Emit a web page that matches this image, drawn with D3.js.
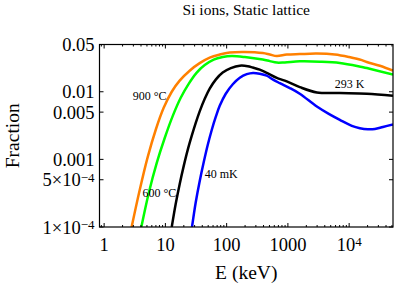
<!DOCTYPE html>
<html>
<head>
<meta charset="utf-8">
<script src="https://cdn.jsdelivr.net/npm/d3@7"></script>
<style>
  body { margin: 0; background: #fff; }
  text { font-family: "Liberation Serif", "DejaVu Serif", serif; fill: #000; }
</style>
</head>
<body>
<div id="chart"></div>
<script>
// energies in keV, fractions
var energy900 = [2.81, 3.8, 5.14, 6.94, 9.38, 12.7, 17.1, 24.9, 36.3, 52.9, 77.1, 112, 198, 389, 506, 659, 960, 1564, 2970, 5840, 10000, 16130, 19450, 31770, 52000];
var fraction900 = [1.0e-4, 3.5e-4, 1.08e-3, 2.72e-3, 5.78e-3, 0.01, 0.0146, 0.0205, 0.0265, 0.032, 0.0355, 0.038, 0.0387, 0.0373, 0.0355, 0.0337, 0.0355, 0.0361, 0.0367, 0.0355, 0.0326, 0.0294, 0.0275, 0.0243, 0.0205];

var energy600 = [4.05, 5.34, 7.21, 9.75, 13.2, 17.8, 24, 32.5, 43.9, 61.5, 86.3, 121, 198, 389, 506, 659, 890, 1564, 3320, 7050, 16130, 19450, 52000];
var fraction600 = [1.0e-4, 3.16e-4, 8.81e-4, 2.07e-3, 4.4e-3, 8.15e-3, 0.0131, 0.0192, 0.0248, 0.0299, 0.0326, 0.0337, 0.0326, 0.0299, 0.0284, 0.027, 0.0272, 0.0282, 0.0279, 0.0267, 0.0233, 0.0225, 0.0179];

var energy293 = [12.7, 14.7, 17.1, 19.9, 23.1, 26.9, 31.3, 36.3, 43.9, 52.9, 66.4, 86.3, 117, 164, 221, 267, 347, 452, 659, 890, 1564, 2970, 7050, 19450, 52000];
var fraction293 = [1.0e-4, 2.17e-4, 4.3e-4, 7.94e-4, 1.37e-3, 2.22e-3, 3.46e-3, 5.12e-3, 7.87e-3, 0.0111, 0.0151, 0.0192, 0.0223, 0.0243, 0.0239, 0.0228, 0.0212, 0.019, 0.016, 0.0146, 0.0117, 0.00976, 0.00956, 0.00934, 0.00873];

var energy40 = [27.2, 31.3, 36.3, 42.3, 49.1, 57.1, 66.4, 77.1, 96.7, 126, 164, 213, 270, 347, 452, 573, 738, 1074, 1564, 2970, 4650, 7050, 11070, 14970, 20230, 26300, 35560, 52000];
var fraction40 = [1.0e-4, 2.32e-4, 4.76e-4, 9.12e-4, 1.63e-3, 2.72e-3, 4.25e-3, 6.19e-3, 9.34e-3, 0.0129, 0.0161, 0.0182, 0.019, 0.0185, 0.0173, 0.0151, 0.0134, 0.01135, 0.00934, 0.00605, 0.00471, 0.00384, 0.00313, 0.00289, 0.00279, 0.00282, 0.00302, 0.00329];

var seriesNames = ["900 °C", "600 °C", "293 K", "40 mK"];
var seriesColors = ["#ff8000", "#00ff00", "#000000", "#0000ff"];

// curve labels, placed at (energy, fraction)
var labelText = ["900 °C", "600 °C", "40 mK", "293 K"];
var labelEnergy = [2.92, 4.21, 43.9, 5840];
var labelFraction = [7.6e-3, 2.8e-4, 5.27e-4, 0.01147];

var xTicks = [1, 10, 100, 1000, 10000];
var xTickLabels = [["1"], ["10"], ["100"], ["1000"], ["10", "4"]];
var yTicks = [0.05, 0.01, 0.005, 0.001, 5e-4, 1e-4];
var yTickLabels = [["0.05"], ["0.01"], ["0.005"], ["0.001"], ["5\u00d710", "\u22124"], ["1\u00d710", "\u22124"]];

var title = "Si ions, Static lattice";
var xLabel = "E (keV)";
var yLabel = "Fraction";

var margin = {top: 44.5, right: 6, bottom: 60, left: 99.5};
var width = 399 - margin.left - margin.right;
var height = 287 - margin.top - margin.bottom;

var svg = d3.select("#chart")
    .append("svg")
    .attr("width", 399)
    .attr("height", 287)
    .append("g")
    .attr("transform", "translate(" + margin.left + "," + margin.top + ")");

var x = d3.scaleLog()
    .domain([0.84, 52000])
    .range([0, width]);

var y = d3.scaleLog()
    .domain([1e-4, 0.05])
    .range([height, 0]);

// minor ticks for the log energy axis
var minorX = [];
for (var p = -1; p <= 4; p++) {
    for (var m = 2; m <= 9; m++) {
        var v = m * Math.pow(10, p);
        if (v > 0.84 && v < 52000) minorX.push(v);
    }
}

svg.append("clipPath")
    .attr("id", "plotclip")
    .append("rect")
    .attr("width", width)
    .attr("height", height);

// curves
var line = d3.line()
    .x(function(d) { return x(d[0]); })
    .y(function(d) { return y(d[1]); })
    .curve(d3.curveCatmullRom.alpha(0.5));

var series = [
    d3.zip(energy900, fraction900),
    d3.zip(energy600, fraction600),
    d3.zip(energy293, fraction293),
    d3.zip(energy40, fraction40)
];

svg.append("g")
    .attr("clip-path", "url(#plotclip)")
    .selectAll("path")
    .data(series)
    .enter()
    .append("path")
    .attr("d", line)
    .style("fill", "none")
    .style("stroke", function(d, i) { return seriesColors[i]; })
    .style("stroke-width", 2.5)
    .style("stroke-linejoin", "round");

// frame
svg.append("rect")
    .attr("width", width)
    .attr("height", height)
    .style("fill", "none")
    .style("stroke", "#000")
    .style("stroke-width", 1.2);

// ticks pointing inwards, on all four sides
var tickG = svg.append("g").style("stroke", "#000").style("stroke-width", 1);

tickG.selectAll(".xmaj")
    .data(xTicks)
    .enter()
    .append("path")
    .attr("d", function(d) {
        var px = x(d);
        return "M" + px + "," + height + "v-4M" + px + ",0v4";
    });

tickG.selectAll(".xmin")
    .data(minorX)
    .enter()
    .append("path")
    .attr("d", function(d) {
        var px = x(d);
        return "M" + px + "," + height + "v-2M" + px + ",0v2";
    });

tickG.selectAll(".ymaj")
    .data(yTicks)
    .enter()
    .append("path")
    .attr("d", function(d) {
        var py = y(d);
        return "M0," + py + "h4M" + width + "," + py + "h-4";
    });

// tick labels
var xText = svg.append("g")
    .selectAll("text")
    .data(xTicks)
    .enter()
    .append("text")
    .attr("x", function(d) { return x(d); })
    .attr("y", height + 23.5)
    .attr("text-anchor", "middle")
    .style("font-size", "18.5px");

xText.each(function(d, i) {
    var parts = xTickLabels[i];
    var t = d3.select(this);
    t.append("tspan").text(parts[0]);
    if (parts.length > 1) {
        t.append("tspan")
            .attr("dy", -5)
            .style("font-size", "13px")
            .text(parts[1]);
    }
});

var yText = svg.append("g")
    .selectAll("text")
    .data(yTicks)
    .enter()
    .append("text")
    .attr("x", -5)
    .attr("y", function(d) { return y(d) + 6.5; })
    .attr("text-anchor", "end")
    .style("font-size", "18.5px");

yText.each(function(d, i) {
    var parts = yTickLabels[i];
    var t = d3.select(this);
    t.append("tspan").text(parts[0]);
    if (parts.length > 1) {
        t.append("tspan")
            .attr("dy", -4.5)
            .style("font-size", "13px")
            .text(parts[1]);
    }
});

// curve labels
svg.append("g")
    .selectAll("text")
    .data(labelText)
    .enter()
    .append("text")
    .attr("x", function(d, i) { return x(labelEnergy[i]); })
    .attr("y", function(d, i) { return y(labelFraction[i]); })
    .style("font-size", "12px")
    .text(function(d) { return d; });

// title and axis labels
svg.append("text")
    .attr("x", width / 2)
    .attr("y", 15 - margin.top)
    .attr("text-anchor", "middle")
    .style("font-size", "15.5px")
    .text(title);

svg.append("text")
    .attr("x", width / 2)
    .attr("y", height + 52)
    .attr("text-anchor", "middle")
    .style("font-size", "19.5px")
    .text(xLabel);

svg.append("text")
    .attr("transform", "translate(" + (18.5 - margin.left) + "," + (height / 2) + ") rotate(-90)")
    .attr("text-anchor", "middle")
    .style("font-size", "19.5px")
    .text(yLabel);
</script>
</body>
</html>
